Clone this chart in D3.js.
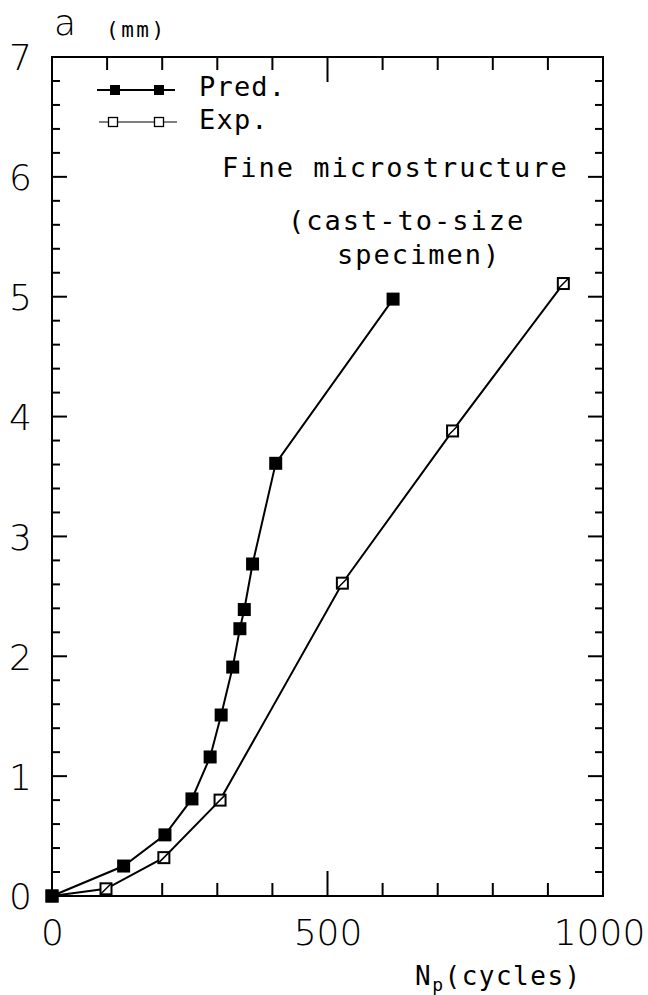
<!DOCTYPE html>
<html>
<head>
<meta charset="utf-8">
<script src="https://cdn.jsdelivr.net/npm/d3@7"></script>
<style>
  body { margin: 0; background: #fff; }
  svg { display: block; }
  .lbl { font-family: "DejaVu Sans Mono", monospace; fill: #000; }
  .num { font-family: "DejaVu Sans", sans-serif; font-weight: 200; }
</style>
</head>
<body>
<svg id="chart" width="648" height="995"></svg>
<script>
// crack length a (mm) vs cycles Np, fine microstructure
const predCycles = [0, 130, 205, 254, 287, 307, 328, 341, 349, 364, 406, 619];
const predLength = [0, 0.25, 0.51, 0.81, 1.16, 1.51, 1.91, 2.23, 2.39, 2.77, 3.61, 4.98];
const expCycles = [0, 98, 203, 305, 527, 727, 928];
const expLength = [0, 0.06, 0.32, 0.80, 2.61, 3.88, 5.11];

const xLabels = [0, 500, 1000];
const yLabels = [0, 1, 2, 3, 4, 5, 6, 7];

const svg = d3.select("#chart");
const mLeft = 52, mRight = 603, mTop = 57, mBottom = 896;

const x = d3.scaleLinear().domain([0, 1000]).range([mLeft, mRight]);
const y = d3.scaleLinear().domain([0, 7]).range([mBottom, mTop]);

const pred = predCycles.map((c, i) => [c, predLength[i]]);
const exp = expCycles.map((c, i) => [c, expLength[i]]);

// --- ticks (inward), on all four sides
const xMinor = d3.range(100, 1000, 100);
const yMinor = d3.range(1, 35).map(i => i / 5);

function tickLen(axisKind, v) {
    if (axisKind === "x") return v === 500 ? 25 : 13;
    return Math.abs(v - Math.round(v)) < 1e-6 ? 15 : 8;
}

const tickG = svg.append("g").attr("stroke", "#000").attr("stroke-width", 2);
xMinor.forEach(v => {
    const L = tickLen("x", v);
    tickG.append("line").attr("x1", x(v)).attr("x2", x(v)).attr("y1", mBottom).attr("y2", mBottom - L);
    tickG.append("line").attr("x1", x(v)).attr("x2", x(v)).attr("y1", mTop).attr("y2", mTop + L);
});
yMinor.forEach(v => {
    const L = tickLen("y", v);
    tickG.append("line").attr("y1", y(v)).attr("y2", y(v)).attr("x1", mLeft).attr("x2", mLeft + L);
    tickG.append("line").attr("y1", y(v)).attr("y2", y(v)).attr("x1", mRight).attr("x2", mRight - L);
});

// frame
svg.append("rect")
    .attr("x", mLeft).attr("y", mTop)
    .attr("width", mRight - mLeft).attr("height", mBottom - mTop)
    .attr("fill", "none").attr("stroke", "#000").attr("stroke-width", 2);

// --- tick labels through d3 axes
const fmt = d3.format("d");
const xAxis = svg.append("g")
    .attr("transform", `translate(0,${mBottom})`)
    .call(d3.axisBottom(x).tickValues(xLabels).tickFormat(fmt).tickSize(0).tickPadding(23));
const yAxis = svg.append("g")
    .attr("transform", `translate(${mLeft},0)`)
    .call(d3.axisLeft(y).tickValues(yLabels).tickFormat(fmt).tickSize(0).tickPadding(20));
[xAxis, yAxis].forEach(g => {
    g.select(".domain").remove();
    g.selectAll("text")
        .attr("class", "num")
        .attr("font-size", 36)
        .attr("fill", "#000");
});
yAxis.selectAll("text").attr("dy", "0.36em");
// the last x label sits a little left of its tick in the reference
xAxis.selectAll("text").filter(d => d === 1000).attr("dx", -4);

// --- series
const line = d3.line().x(d => x(d[0])).y(d => y(d[1]));

svg.append("path").datum(exp)
    .attr("d", line).attr("fill", "none")
    .attr("stroke", "#000").attr("stroke-width", 2);
svg.append("path").datum(pred)
    .attr("d", line).attr("fill", "none")
    .attr("stroke", "#000").attr("stroke-width", 2);

svg.append("g").selectAll("rect").data(exp).join("rect")
    .attr("x", d => x(d[0]) - 5.5).attr("y", d => y(d[1]) - 5.5)
    .attr("width", 11).attr("height", 11)
    .attr("fill", "#fff").attr("stroke", "#000").attr("stroke-width", 2);
// small diagonal through each open square, as the line passes it
svg.append("g").selectAll("line").data(exp.slice(1)).join("line")
    .attr("x1", d => x(d[0]) - 5).attr("y1", d => y(d[1]) + 5)
    .attr("x2", d => x(d[0]) + 5).attr("y2", d => y(d[1]) - 5)
    .attr("stroke", "#000").attr("stroke-width", 1.5);

svg.append("g").selectAll("rect").data(pred).join("rect")
    .attr("x", d => x(d[0]) - 6.5).attr("y", d => y(d[1]) - 6.5)
    .attr("width", 13).attr("height", 13)
    .attr("fill", "#000");

// --- legend
const lg = svg.append("g");
lg.append("line").attr("x1", 97).attr("x2", 175).attr("y1", 90).attr("y2", 90)
    .attr("stroke", "#000").attr("stroke-width", 1.8);
[115, 159].forEach(cx => lg.append("rect")
    .attr("x", cx - 5).attr("y", 85).attr("width", 10).attr("height", 10).attr("fill", "#000"));
lg.append("line").attr("x1", 99).attr("x2", 177).attr("y1", 122).attr("y2", 122)
    .attr("stroke", "#000").attr("stroke-width", 1.2);
[113, 159].forEach(cx => lg.append("rect")
    .attr("x", cx - 4.5).attr("y", 117.5).attr("width", 9).attr("height", 9)
    .attr("fill", "#fff").attr("stroke", "#000").attr("stroke-width", 1.3));

function label(txt, tx, ty, size, spacing) {
    return svg.append("text").attr("class", "lbl")
        .attr("x", tx).attr("y", ty)
        .attr("font-size", size)
        .attr("letter-spacing", spacing)
        .text(txt);
}
label("Pred.", 199, 96, 27, 1.2);
label("Exp.", 199, 129, 27, 1.2);
label("Fine microstructure", 222, 177, 27, 2);
label("(cast-to-size", 288, 230, 27, 2);
label("specimen)", 337, 264, 27, 2);
label("(mm)", 106, 37, 21, 2.5);

svg.append("text").attr("class", "num")
    .attr("x", 54).attr("y", 35).attr("font-size", 36)
    .attr("fill", "#000").text("a");

// x-axis title N_p (cycles)
const xt = svg.append("text").attr("class", "lbl")
    .attr("x", 415).attr("y", 985).attr("font-size", 26).attr("letter-spacing", 1.5);
xt.append("tspan").text("N");
xt.append("tspan").attr("font-size", 18).attr("dy", 6).text("p");
xt.append("tspan").attr("dy", -6).text("(cycles)");
</script>
</body>
</html>
